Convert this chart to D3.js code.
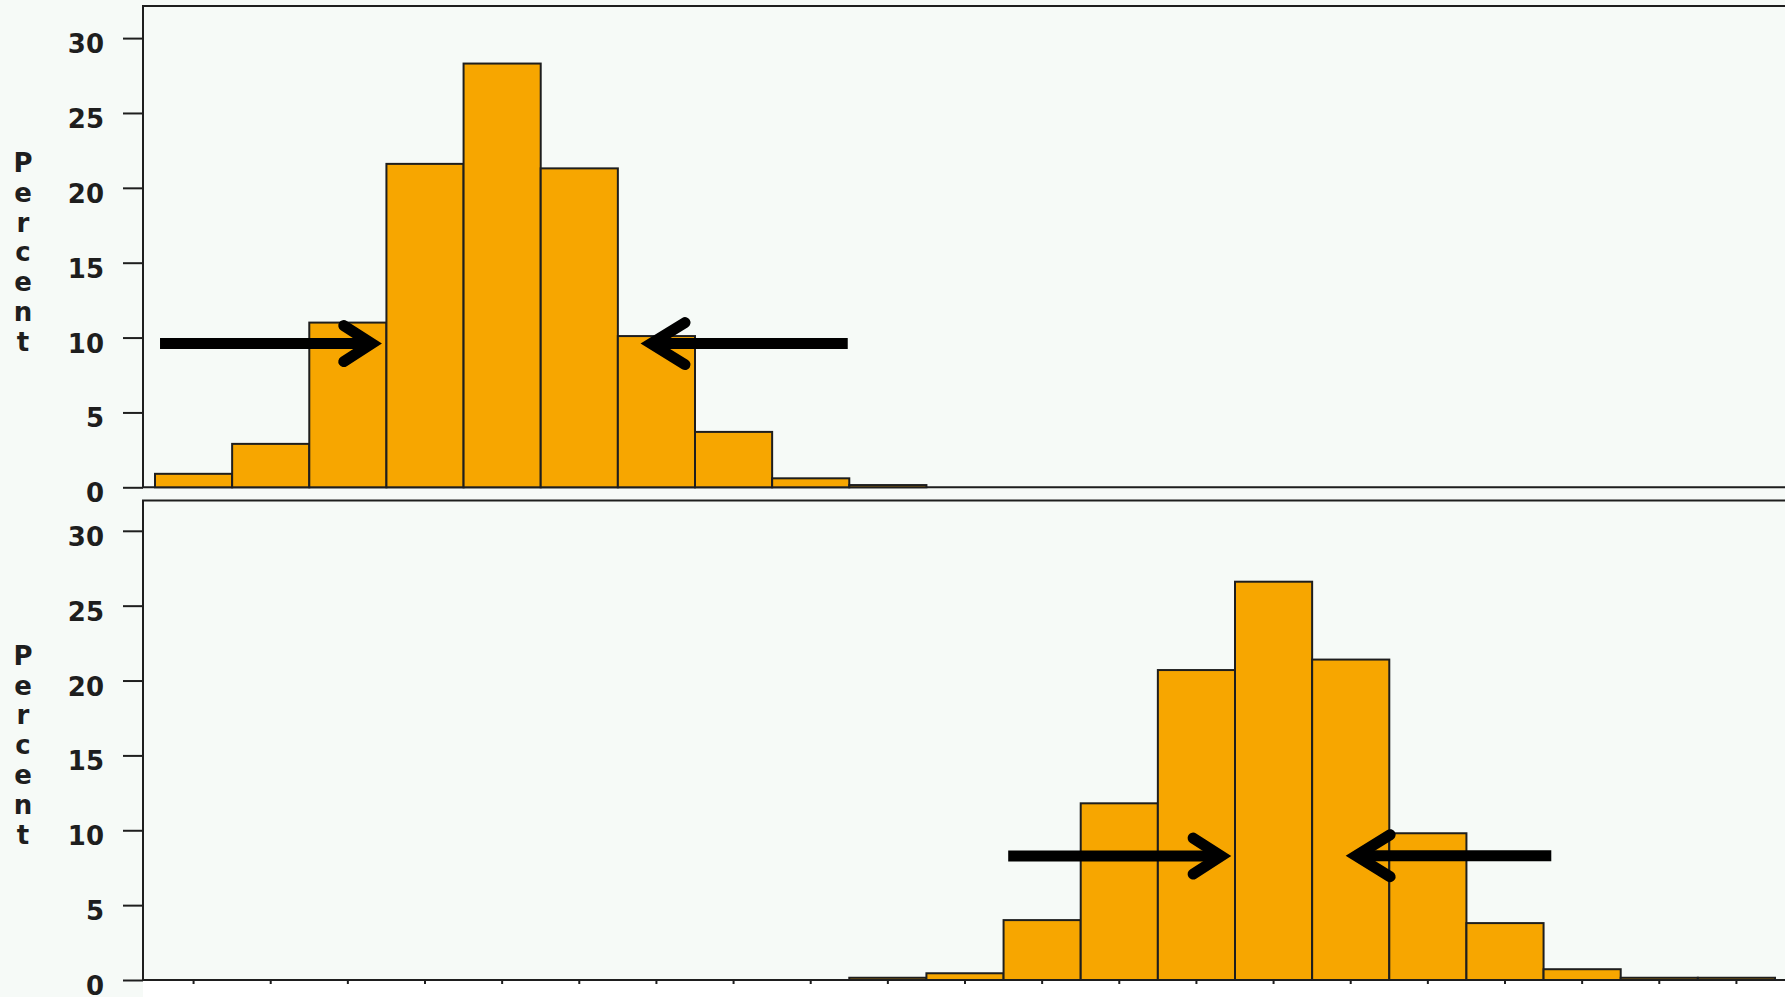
<!DOCTYPE html>
<html>
<head>
<meta charset="utf-8">
<script src="https://cdn.jsdelivr.net/npm/d3@7"></script>
<style>
  html, body { margin: 0; padding: 0; background: #f6faf7; }
  svg { display: block; }
</style>
</head>
<body>
<div id="chart"></div>
<script>
// histogram bins (index only, the x axis carries no labels)
const bins = d3.range(21);

// percent per bin, upper and lower panel
const upperPercent = [0.9, 2.9, 11.0, 21.6, 28.3, 21.3, 10.1, 3.7, 0.6, 0.15, 0, 0, 0, 0, 0, 0, 0, 0, 0, 0, 0];
const lowerPercent = [0, 0, 0, 0, 0, 0, 0, 0, 0, 0.15, 0.45, 4.0, 11.8, 20.7, 26.6, 21.4, 9.8, 3.8, 0.72, 0.15, 0.15];

const yTicks = [0, 5, 10, 15, 20, 25, 30];
const axisLabel = "Percent";

// arrows: [panel, from bin, to bin, percent]
const arrows = [
    [0, 0.065, 2.81, 9.6],
    [0, 8.98, 6.43, 9.6],
    [1, 11.06, 13.82, 8.28],
    [1, 18.1, 15.57, 8.3]
];

const width = 1785;
const height = 997;
const frameLeft = 143;
const barColor = "#f7a600";
const ink = "#1e1e1e";
const labelFont = "bold 26px 'DejaVu Sans', Verdana, sans-serif";

const panels = [
    { values: upperPercent, top: 6, base: 487.3 },
    { values: lowerPercent, top: 500.5, base: 980 }
];

const x = d3.scaleLinear([0, 21], [155, 1775]);

const svg = d3.select("#chart").append("svg")
    .attr("width", width)
    .attr("height", height)
    .attr("viewBox", [0, 0, width, height]);

// white strip under the lower x axis
svg.append("rect")
    .attr("x", frameLeft)
    .attr("y", 981)
    .attr("width", width - frameLeft)
    .attr("height", height - 981)
    .attr("fill", "#ffffff");

panels.forEach((p, k) => {
    p.y = d3.scaleLinear([0, 30], [p.base, p.base - 449.2]);
    const g = svg.append("g");

    // frame
    g.append("path")
        .attr("fill", "none")
        .attr("stroke", ink)
        .attr("stroke-width", 2)
        .attr("d", `M${width},${p.top}H${frameLeft}V${p.base}H${width}`);

    // bars
    g.append("g").selectAll("rect")
        .data(bins.filter(i => p.values[i] > 0))
        .join("rect")
        .attr("x", i => x(i))
        .attr("width", i => x(i + 1) - x(i))
        .attr("y", i => p.y(p.values[i]))
        .attr("height", i => p.y(0) - p.y(p.values[i]))
        .attr("fill", barColor)
        .attr("stroke", ink)
        .attr("stroke-width", 2);

    // y axis
    const axis = g.append("g")
        .attr("transform", `translate(${frameLeft},0)`)
        .call(d3.axisLeft(p.y).tickValues(yTicks).tickSize(20).tickSizeOuter(0).tickPadding(19));
    axis.select(".domain").remove();
    axis.selectAll(".tick line").attr("stroke", ink).attr("stroke-width", 2);
    axis.selectAll(".tick text")
        .attr("fill", ink)
        .attr("dy", "0.56em")
        .style("font", labelFont);

    // stacked axis label
    const label = g.append("text")
        .attr("fill", ink)
        .attr("text-anchor", "middle")
        .style("font", labelFont);
    label.selectAll("tspan")
        .data(axisLabel.split(""))
        .join("tspan")
        .attr("x", 23)
        .attr("y", (d, i) => p.base - 315.3 + i * 29.8)
        .text(d => d);

    // x ticks only on the lower panel
    if (k === 1) {
        g.append("g").selectAll("line")
            .data(bins)
            .join("line")
            .attr("x1", i => x(i + 0.5))
            .attr("x2", i => x(i + 0.5))
            .attr("y1", p.base)
            .attr("y2", p.base + 4)
            .attr("stroke", ink)
            .attr("stroke-width", 2);
    }
});

// arrows
const arrowG = svg.append("g").attr("stroke", "#000").attr("fill", "none").attr("stroke-width", 11);
arrows.forEach(([k, from, to, v]) => {
    const y = panels[k].y(v);
    const x0 = x(from);
    const x1 = x(to);
    const dir = x1 > x0 ? 1 : -1;
    const hx = dir > 0 ? 28 : 34;
    const hy = dir > 0 ? 18 : 21;
    arrowG.append("line")
        .attr("x1", x0).attr("x2", x1)
        .attr("y1", y).attr("y2", y);
    arrowG.append("path")
        .attr("stroke-linecap", "round")
        .attr("stroke-linejoin", "miter")
        .attr("d", `M${x1 - dir * hx},${y - hy}L${x1},${y}L${x1 - dir * hx},${y + hy}`);
});
</script>
</body>
</html>
